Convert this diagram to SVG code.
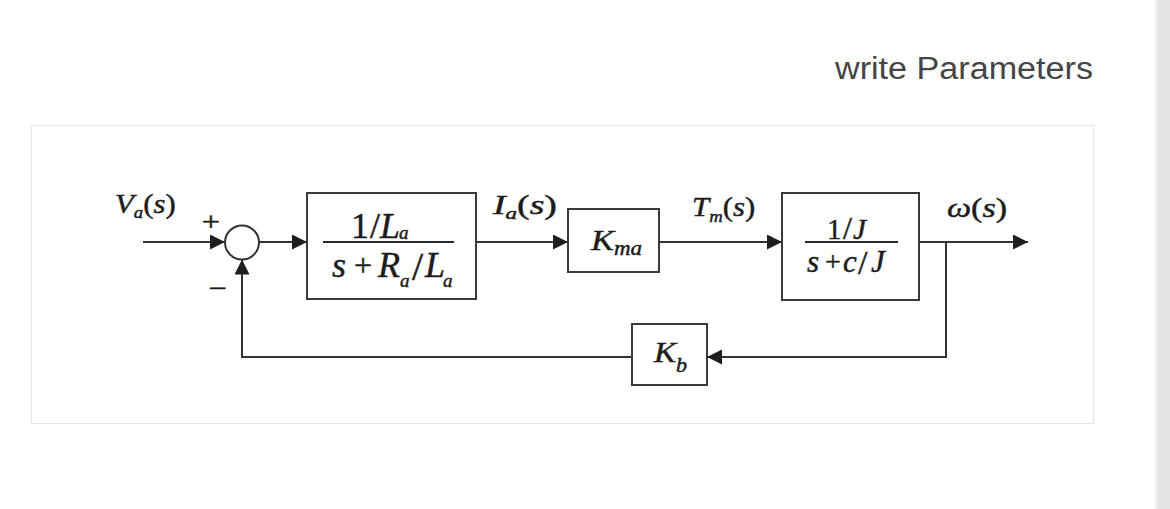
<svg xmlns="http://www.w3.org/2000/svg" width="1170" height="509" viewBox="0 0 1170 509">
<style>
  .bg { fill: #ffffff; }
  .frame { fill: #ffffff; stroke: #e6e6e6; stroke-width: 1; }
  .blk { fill: #ffffff; stroke: #3a3a3a; stroke-width: 2; }
  .wire { fill: none; stroke: #333333; stroke-width: 2; }
  .bar { stroke: #2a2a2a; stroke-width: 2; }
  .m { font-family: "Liberation Serif", "Times New Roman", serif; fill: #1c1c1c; stroke: #1c1c1c; stroke-width: 0.45; }
  .i { font-style: italic; }
  .hdr { font-family: "Liberation Sans", Arial, sans-serif; font-size: 31px; fill: #454545; }
</style>
<defs>
  <marker id="arr" markerUnits="userSpaceOnUse" markerWidth="15" markerHeight="15" viewBox="0 0 15 15" refX="15" refY="7.5" orient="auto">
    <path d="M0,0 L15,7.5 L0,15 z" fill="#1e1e1e"/>
  </marker>
</defs>

<rect class="bg" x="0" y="0" width="1170" height="509"/>
<rect x="1155" y="0" width="3" height="509" fill="#eeeeee"/>
<rect x="1158" y="0" width="12" height="509" fill="#e4e4e4"/>

<text class="hdr" x="835" y="79" textLength="258" lengthAdjust="spacingAndGlyphs">write Parameters</text>

<rect class="frame" x="31.5" y="125.5" width="1062" height="298"/>

<g id="connectors">
  <path class="wire" d="M143,242 H225" marker-end="url(#arr)"/>
  <path class="wire" d="M259,242 H307" marker-end="url(#arr)"/>
  <path class="wire" d="M476,242 H568" marker-end="url(#arr)"/>
  <path class="wire" d="M659,242 H782" marker-end="url(#arr)"/>
  <path class="wire" d="M919,242 H1028" marker-end="url(#arr)"/>
  <path class="wire" d="M946,242 V357 H707" marker-end="url(#arr)"/>
  <path class="wire" d="M632,357 H242 V259.5" marker-end="url(#arr)"/>
</g>

<g id="signal-labels">
  <text class="m" font-size="28" transform="translate(115,213) scale(1.1,1)"><tspan class="i">V</tspan><tspan class="i" font-size="17" dy="5">a</tspan><tspan dy="-5">(</tspan><tspan class="i">s</tspan><tspan>)</tspan></text>
  <text class="m" font-size="28" transform="translate(493,214) scale(1.35,1)"><tspan class="i">I</tspan><tspan class="i" font-size="17" dy="5">a</tspan><tspan dy="-5">(</tspan><tspan class="i">s</tspan><tspan>)</tspan></text>
  <text class="m" font-size="28" transform="translate(692,216) scale(1.1,1)"><tspan class="i">T</tspan><tspan class="i" font-size="17" dy="6">m</tspan><tspan dy="-6">(</tspan><tspan class="i">s</tspan><tspan>)</tspan></text>
  <text class="m" font-size="28" transform="translate(947,217) scale(1.22,1)"><tspan class="i">ω</tspan><tspan>(</tspan><tspan class="i">s</tspan><tspan>)</tspan></text>
</g>

<g id="node-sum">
  <circle cx="242" cy="242.5" r="17" fill="#ffffff" stroke="#333333" stroke-width="2"/>
  <text class="m" font-size="26" text-anchor="middle" transform="translate(211,230) scale(1.25,1)">+</text>
  <text class="m" font-size="26" text-anchor="middle" transform="translate(218,297) scale(1.25,1)">−</text>
</g>

<g id="node-electrical">
  <rect class="blk" x="307" y="193" width="169" height="106"/>
  <line class="bar" x1="323" y1="242" x2="454" y2="242"/>
  <text class="m" font-size="36" y="238"><tspan x="351">1</tspan><tspan x="370">/</tspan><tspan class="i" x="380">L</tspan><tspan class="i" x="399" y="239" font-size="19">a</tspan></text>
  <text class="m" font-size="36" y="277"><tspan class="i" x="332">s</tspan><tspan x="354" y="276" font-size="32">+</tspan><tspan class="i" x="378" y="277">R</tspan><tspan class="i" x="400" y="287" font-size="19">a</tspan><tspan x="412" y="280" font-size="40">/</tspan><tspan class="i" x="425" y="277">L</tspan><tspan class="i" x="443" y="287" font-size="19">a</tspan></text>
</g>

<g id="node-kma">
  <rect class="blk" x="568" y="209" width="91" height="63"/>
  <text class="m i" font-size="30" transform="translate(591,250) scale(1.15,1)">K<tspan font-size="20" dy="5">ma</tspan></text>
</g>

<g id="node-mechanical">
  <rect class="blk" x="782" y="193" width="137" height="107"/>
  <line class="bar" x1="805" y1="242" x2="898" y2="242"/>
  <text class="m" font-size="29" y="239"><tspan x="827">1</tspan><tspan x="843" font-size="32">/</tspan><tspan class="i" x="853">J</tspan></text>
  <text class="m" font-size="31" y="272"><tspan class="i" x="807">s</tspan><tspan x="825" y="271" font-size="28">+</tspan><tspan class="i" x="843" y="272">c</tspan><tspan x="858" y="274" font-size="34">/</tspan><tspan class="i" x="871" y="272">J</tspan></text>
</g>

<g id="node-kb">
  <rect class="blk" x="632" y="324" width="75" height="61"/>
  <text class="m i" font-size="30" transform="translate(654,362) scale(1.1,1)">K<tspan font-size="20" dy="10">b</tspan></text>
</g>
</svg>
